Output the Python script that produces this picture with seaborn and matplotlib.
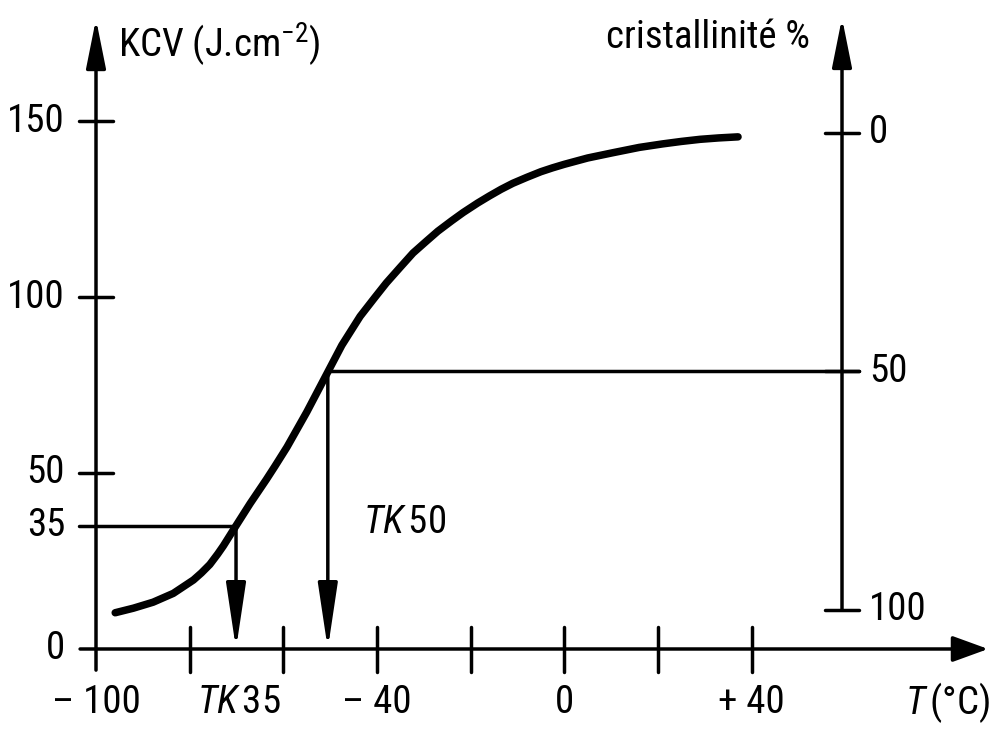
import numpy as np
import pandas as pd
import matplotlib
matplotlib.use("Agg")
import matplotlib.pyplot as plt
from matplotlib import font_manager
import seaborn as sns

# ---------------- data ----------------
temp_c = [-95.9, -92.0, -87.8, -83.5, -79.2, -77.5, -75.7, -74.0, -72.8, -70.3,
          -67.1, -63.6, -61.8, -59.2, -55.0, -50.5, -47.5, -43.6, -40.5, -38.0,
          -35.0, -32.3, -29.5, -27.0, -24.0, -21.6, -18.5, -16.0, -13.5, -11.0,
          -8.0, -5.0, -2.5, 0.0, 5.0, 10.4, 16.0, 21.0, 25.0, 29.0, 33.0, 37.1]
kcv = [10.3, 11.6, 13.3, 15.8, 19.6, 21.6, 24.0, 27.0, 29.3, 34.6,
       41.3, 48.2, 51.9, 57.4, 67.3, 78.7, 86.3, 94.5, 99.8, 104.0,
       108.5, 112.5, 115.8, 118.7, 121.7, 124.0, 126.7, 128.7, 130.6, 132.3,
       134.0, 135.6, 136.7, 137.7, 139.5, 141.0, 142.5, 143.5, 144.2, 144.8, 145.2, 145.5]

kcv_ticks = [50, 100, 150]            # crossing ticks on left axis
kcv_labels = ["0", "35", "50", "100", "150"]
kcv_label_vals = [0, 35, 50, 100, 150]
temp_ticks = [-80, -60, -40, -20, 0, 20, 40]
temp_labels = ["– 100", "– 40", "0", "+ 40"]
temp_label_vals = [-100, -40, 0, 40]

cryst_ticks = [0, 50, 100]            # crystallinity %
cryst_kcv_0 = 146.6                   # KCV level of 0 % crystallinity
cryst_kcv_100 = 11.1                  # KCV level of 100 % crystallinity
cryst_axis_temp = 59.3                # position of the right axis (°C)

tk35 = (-70.1, 35)                    # (temperature, KCV)
tk50 = (-50.5, 78.85)

# ---------------- font choice: a condensed sans if one is installed ----------------
def pick_font():
    cands = []
    for f in font_manager.fontManager.ttflist:
        st = f.stretch
        narrow = ("Narrow" in f.name) or ("Condensed" in f.name) or \
                 (isinstance(st, str) and "condensed" in st and "semi" not in st) or \
                 (isinstance(st, int) and st < 500)
        if narrow and f.style == "normal" and f.weight in (400, "normal", "regular"):
            cands.append(f)
    pref = ["Liberation Sans Narrow", "Roboto Condensed", "Noto Sans", "Open Sans",
            "DejaVu Sans", "Liberation Sans", "Roboto", "Lato", "Inter"]
    for p in pref:
        for f in cands:
            if f.name == p or f.name.startswith(p):
                return f.name, f.stretch, True
    if cands:
        return cands[0].name, cands[0].stretch, True
    return "Liberation Sans", "normal", False

fam, stretch, condensed = pick_font()

# ---------------- figure ----------------
sns.set_theme(style="white")
plt.rcParams["font.family"] = [fam, "DejaVu Sans"]
plt.rcParams["font.stretch"] = stretch
plt.rcParams["text.color"] = "black"
plt.rcParams["mathtext.fontset"] = "custom"
plt.rcParams["mathtext.rm"] = f"{fam}:stretch={stretch}"
plt.rcParams["mathtext.it"] = f"{fam}:italic:stretch={stretch}"

fig = plt.figure(figsize=(9.95, 7.29), dpi=100)
ax = fig.add_axes([0, 0, 1, 1])
ax.set_xlim(-120.5, 91.97)
ax.set_ylim(-22.73, 184.38)
ax.axis("off")

px_x = (91.97 + 120.5) / 995.0
px_y = (184.38 + 22.73) / 729.0

LW = 2.5
FS = 28 if condensed else 24

def arrow(x0, y0, x1, y1, hl, hw):
    ax.annotate("", xy=(x1, y1), xytext=(x0, y0),
                arrowprops=dict(arrowstyle=f"-|>,head_length={hl},head_width={hw}",
                                lw=LW, color="black", shrinkA=0, shrinkB=0,
                                mutation_scale=10))

def txt(x, y, s, **kw):
    ax.text(x, y, s, fontsize=FS, color="black", **kw)

# curve
df = pd.DataFrame({"temp": temp_c, "kcv": kcv})
sns.lineplot(data=df, x="temp", y="kcv", color="black", linewidth=5.4,
             sort=False, ax=ax, solid_joinstyle="round", solid_capstyle="round")

# left axis
arrow(-100, -6.0, -100, 179.0, 3.0, 0.6)
for v in kcv_ticks:
    ax.plot([-100 - 17 * px_x, -100 + 17 * px_x], [v, v], color="black", lw=LW)
# bottom axis
arrow(-103.4, 0, 90.5, 0, 2.2, 0.8)
for t in temp_ticks:
    ax.plot([t, t], [-23 * px_y, 22 * px_y], color="black", lw=LW)

# right axis (crystallinity)
def cryst_to_kcv(p):
    return cryst_kcv_0 + (cryst_kcv_100 - cryst_kcv_0) * p / 100.0

arrow(cryst_axis_temp, cryst_to_kcv(100), cryst_axis_temp, 179.3, 3.0, 0.6)
for p in cryst_ticks:
    y = cryst_to_kcv(p)
    ax.plot([cryst_axis_temp - 17 * px_x, cryst_axis_temp + 17 * px_x], [y, y],
            color="black", lw=LW)
    txt(cryst_axis_temp + 27 * px_x, y, str(p), ha="left", va="center")

# TK35 guide
ax.plot([-100 - 17 * px_x, tk35[0]], [tk35[1], tk35[1]], color="black", lw=LW)
arrow(tk35[0], tk35[1], tk35[0], 0, 4.0, 0.6)
# TK50 guide
ax.plot([tk50[0], cryst_axis_temp + 17 * px_x], [tk50[1], tk50[1]], color="black", lw=LW)
arrow(tk50[0], tk50[1], tk50[0], 0, 4.0, 0.6)

# left tick labels
for v, lab in zip(kcv_label_vals, kcv_labels):
    txt(-100 - 31 * px_x, v, lab, ha="right", va="center")

# bottom tick labels
ybot = -15.3
for t, lab in zip(temp_label_vals, temp_labels):
    txt(t, ybot, lab, ha="center", va="center")
txt(tk35[0] + 0.6, ybot, r"$\mathit{TK}\,$35", ha="center", va="center")
txt(90.9, ybot, r"$\mathit{T}\,$(°C)", ha="right", va="center")

# TK50 annotation
txt(-34.2, 36.0, r"$\mathit{TK}\,$50", ha="center", va="center")

# axis titles
txt(-95.3, 171.6, r"KCV (J.cm$^{-2}$)", ha="left", va="center")
txt(52.5, 173.6, "cristallinité %", ha="right", va="center")

fig.savefig("out.png", dpi=100)
